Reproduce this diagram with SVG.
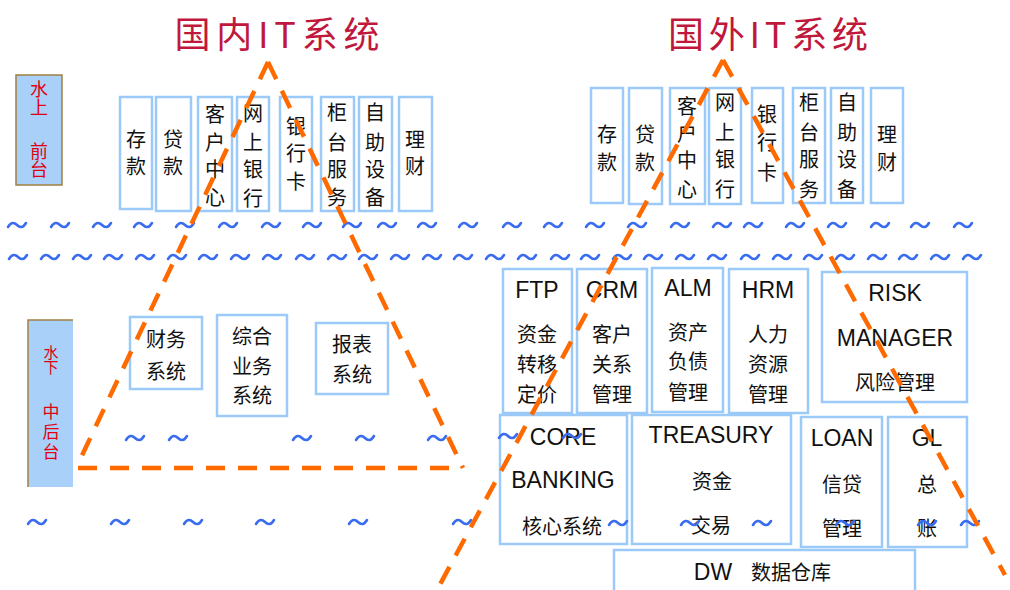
<svg xmlns="http://www.w3.org/2000/svg" xmlns:xlink="http://www.w3.org/1999/xlink" width="1010" height="590" viewBox="0 0 1010 590">
<style>
.bx{fill:#fff;stroke:#9ccaf8;stroke-width:2.5}
.side{fill:#a8d0f8;stroke:#a08040;stroke-width:1.5}
.cj{font-family:"Noto Sans CJK SC",sans-serif;font-size:20px;fill:#111;text-anchor:middle}
.en{font-family:"Liberation Sans",Arial,sans-serif;font-size:23px;fill:#111;text-anchor:middle}
.red{font-family:"Noto Sans CJK SC",sans-serif;fill:#e00010;writing-mode:vertical-rl}
.ttl{font-family:"Noto Sans CJK SC",sans-serif;font-size:36px;fill:#c0183c;text-anchor:middle}
.dash{fill:none;stroke:#ff6a00;stroke-width:4.5;stroke-dasharray:19 13}
</style>
<defs>
<path id="w" d="M-9,2 C-6,-3 -3,-3 0,0 S6,3 9,-2" fill="none" stroke="#3a6cf0" stroke-width="2.6" stroke-linecap="round"/>
</defs>
<rect width="1010" height="590" fill="#fff"/>

<text class="ttl" x="277" y="48" textLength="205">国内IT系统</text>
<text class="ttl" x="768" y="48" textLength="200">国外IT系统</text>

<g id="side-top"><rect class="side" x="16" y="75" width="46" height="110"/>
<text class="red" x="39" y="80" font-size="18">水上</text>
<text class="red" x="39" y="142" font-size="18">前台</text></g>
<g id="side-bottom"><rect x="28" y="320" width="45" height="167" fill="#a8d0f8"/>
<path d="M28,487 V320 H73" fill="none" stroke="#a08040" stroke-width="1.5"/>
<text class="red" x="51" y="345" font-size="15">水下</text>
<text class="red" x="51" y="403" font-size="17" letter-spacing="3">中后台</text></g>

<!-- domestic front -->
<g id="d-cunkuan"><rect class="bx" x="120" y="97" width="32" height="112"/><text class="cj"><tspan x="136" y="147">存</tspan><tspan x="136" y="174">款</tspan></text></g>
<g id="d-daikuan"><rect class="bx" x="156" y="97" width="35" height="114"/><text class="cj"><tspan x="173" y="147">贷</tspan><tspan x="173" y="174">款</tspan></text></g>
<g id="d-kehu"><rect class="bx" x="198" y="97" width="34" height="114"/><text class="cj"><tspan x="215" y="122">客</tspan><tspan x="215" y="150">户</tspan><tspan x="215" y="177">中</tspan><tspan x="215" y="205">心</tspan></text></g>
<g id="d-wangyin"><rect class="bx" x="237" y="97" width="32" height="114"/><text class="cj"><tspan x="253" y="121">网</tspan><tspan x="253" y="150">上</tspan><tspan x="253" y="177">银</tspan><tspan x="253" y="206">行</tspan></text></g>
<g id="d-yinhangka"><rect class="bx" x="280" y="97" width="32" height="114"/><text class="cj"><tspan x="296" y="134">银</tspan><tspan x="296" y="161">行</tspan><tspan x="296" y="189">卡</tspan></text></g>
<g id="d-guitai"><rect class="bx" x="321" y="97" width="33" height="114"/><text class="cj"><tspan x="337" y="120">柜</tspan><tspan x="337" y="150">台</tspan><tspan x="337" y="177">服</tspan><tspan x="337" y="205">务</tspan></text></g>
<g id="d-zizhu"><rect class="bx" x="359" y="97" width="33" height="114"/><text class="cj"><tspan x="375" y="120">自</tspan><tspan x="375" y="150">助</tspan><tspan x="375" y="177">设</tspan><tspan x="375" y="205">备</tspan></text></g>
<g id="d-licai"><rect class="bx" x="399" y="97" width="33" height="114"/><text class="cj"><tspan x="415" y="147">理</tspan><tspan x="415" y="174">财</tspan></text></g>

<!-- foreign front -->
<g id="f-cunkuan"><rect class="bx" x="591" y="88" width="32" height="115"/><text class="cj"><tspan x="607" y="142">存</tspan><tspan x="607" y="170">款</tspan></text></g>
<g id="f-daikuan"><rect class="bx" x="629" y="88" width="33" height="116"/><text class="cj"><tspan x="645" y="142">贷</tspan><tspan x="645" y="170">款</tspan></text></g>
<g id="f-kehu"><rect class="bx" x="670" y="88" width="35" height="116"/><text class="cj"><tspan x="687" y="114">客</tspan><tspan x="687" y="141">户</tspan><tspan x="687" y="168">中</tspan><tspan x="687" y="197">心</tspan></text></g>
<g id="f-wangyin"><rect class="bx" x="709" y="88" width="32" height="116"/><text class="cj"><tspan x="725" y="110">网</tspan><tspan x="725" y="140">上</tspan><tspan x="725" y="167">银</tspan><tspan x="725" y="197">行</tspan></text></g>
<g id="f-yinhangka"><rect class="bx" x="752" y="88" width="31" height="115"/><text class="cj"><tspan x="767" y="122">银</tspan><tspan x="767" y="150">行</tspan><tspan x="767" y="180">卡</tspan></text></g>
<g id="f-guitai"><rect class="bx" x="793" y="88" width="32" height="115"/><text class="cj"><tspan x="809" y="110">柜</tspan><tspan x="809" y="140">台</tspan><tspan x="809" y="167">服</tspan><tspan x="809" y="197">务</tspan></text></g>
<g id="f-zizhu"><rect class="bx" x="831" y="88" width="32" height="115"/><text class="cj"><tspan x="847" y="110">自</tspan><tspan x="847" y="140">助</tspan><tspan x="847" y="167">设</tspan><tspan x="847" y="197">备</tspan></text></g>
<g id="f-licai"><rect class="bx" x="871" y="88" width="32" height="115"/><text class="cj"><tspan x="887" y="142">理</tspan><tspan x="887" y="170">财</tspan></text></g>

<!-- domestic back -->
<g id="d-caiwu"><rect class="bx" x="130" y="317" width="72" height="72"/><text class="cj"><tspan x="166" y="347">财务</tspan><tspan x="166" y="379">系统</tspan></text></g>
<g id="d-zonghe"><rect class="bx" x="217" y="315" width="70" height="101"/><text class="cj"><tspan x="252" y="344">综合</tspan><tspan x="252" y="374">业务</tspan><tspan x="252" y="403">系统</tspan></text></g>
<g id="d-baobiao"><rect class="bx" x="316" y="323" width="72" height="71"/><text class="cj"><tspan x="352" y="352">报表</tspan><tspan x="352" y="382">系统</tspan></text></g>

<!-- foreign back -->
<g id="f-ftp"><rect class="bx" x="503" y="269" width="69" height="144"/><text class="en" x="537" y="298">FTP</text><text class="cj"><tspan x="537" y="342">资金</tspan><tspan x="537" y="372">转移</tspan><tspan x="537" y="402">定价</tspan></text></g>
<g id="f-crm"><rect class="bx" x="577" y="269" width="70" height="144"/><text class="en" x="612" y="298">CRM</text><text class="cj"><tspan x="612" y="342">客户</tspan><tspan x="612" y="372">关系</tspan><tspan x="612" y="402">管理</tspan></text></g>
<g id="f-alm"><rect class="bx" x="652" y="268" width="71" height="144"/><text class="en" x="688" y="296">ALM</text><text class="cj"><tspan x="688" y="340">资产</tspan><tspan x="688" y="369">负债</tspan><tspan x="688" y="400">管理</tspan></text></g>
<g id="f-hrm"><rect class="bx" x="729" y="269" width="79" height="144"/><text class="en" x="768" y="298">HRM</text><text class="cj"><tspan x="768" y="342">人力</tspan><tspan x="768" y="372">资源</tspan><tspan x="768" y="402">管理</tspan></text></g>
<g id="f-risk"><rect class="bx" x="822" y="272" width="145" height="130"/><text class="en" x="895" y="301">RISK</text><text class="en" x="895" y="346">MANAGER</text><text class="cj" x="895" y="390">风险管理</text></g>
<g id="f-core"><rect class="bx" x="500" y="415" width="127" height="129"/><text class="en" x="563" y="445">CORE</text><text class="en" x="563" y="488">BANKING</text><text class="cj" x="562" y="534">核心系统</text></g>
<g id="f-treasury"><rect class="bx" x="632" y="415" width="159" height="129"/><text class="en" x="711" y="443">TREASURY</text><text class="cj"><tspan x="712" y="489">资金</tspan><tspan x="711" y="533">交易</tspan></text></g>
<g id="f-loan"><rect class="bx" x="801" y="417" width="81" height="130"/><text class="en" x="842" y="446">LOAN</text><text class="cj"><tspan x="842" y="492">信贷</tspan><tspan x="842" y="536">管理</tspan></text></g>
<g id="f-gl"><rect class="bx" x="888" y="417" width="79" height="130"/><text class="en" x="927" y="446">GL</text><text class="cj"><tspan x="927" y="492">总</tspan><tspan x="927" y="536">账</tspan></text></g>
<g id="f-dw"><rect class="bx" x="614" y="550" width="301" height="45"/><text class="en" x="713" y="580" font-size="24">DW</text><text class="cj" x="791" y="580" font-size="21">数据仓库</text></g>

<!-- waves -->
<g id="waves">
<use href="#w" x="17" y="225"/><use href="#w" x="60" y="225"/><use href="#w" x="102" y="225"/><use href="#w" x="143" y="225"/><use href="#w" x="185" y="225"/><use href="#w" x="228" y="225"/><use href="#w" x="271" y="225"/><use href="#w" x="312" y="225"/><use href="#w" x="352" y="225"/><use href="#w" x="387" y="225"/><use href="#w" x="427" y="225"/><use href="#w" x="468" y="225"/><use href="#w" x="512" y="225"/><use href="#w" x="553" y="225"/><use href="#w" x="595" y="225"/><use href="#w" x="637" y="225"/><use href="#w" x="680" y="225"/><use href="#w" x="722" y="225"/><use href="#w" x="753" y="225"/><use href="#w" x="795" y="225"/><use href="#w" x="837" y="225"/><use href="#w" x="880" y="225"/><use href="#w" x="920" y="225"/><use href="#w" x="963" y="225"/>
<use href="#w" x="18" y="257"/><use href="#w" x="50" y="257"/><use href="#w" x="82" y="257"/><use href="#w" x="113" y="257"/><use href="#w" x="145" y="257"/><use href="#w" x="177" y="257"/><use href="#w" x="208" y="257"/><use href="#w" x="240" y="257"/><use href="#w" x="272" y="257"/><use href="#w" x="305" y="257"/><use href="#w" x="337" y="257"/><use href="#w" x="368" y="257"/><use href="#w" x="400" y="257"/><use href="#w" x="432" y="257"/><use href="#w" x="463" y="257"/><use href="#w" x="495" y="257"/><use href="#w" x="527" y="257"/><use href="#w" x="560" y="257"/><use href="#w" x="590" y="257"/><use href="#w" x="622" y="257"/><use href="#w" x="653" y="257"/><use href="#w" x="685" y="257"/><use href="#w" x="717" y="257"/><use href="#w" x="750" y="257"/><use href="#w" x="782" y="257"/><use href="#w" x="813" y="257"/><use href="#w" x="845" y="257"/><use href="#w" x="877" y="257"/><use href="#w" x="908" y="257"/><use href="#w" x="940" y="257"/><use href="#w" x="972" y="257"/>
<use href="#w" x="135" y="438"/><use href="#w" x="178" y="438"/><use href="#w" x="302" y="438"/><use href="#w" x="365" y="438"/><use href="#w" x="437" y="438"/><use href="#w" x="508" y="436"/><use href="#w" x="572" y="436"/>
<use href="#w" x="37" y="522"/><use href="#w" x="120" y="522"/><use href="#w" x="193" y="522"/><use href="#w" x="265" y="522"/><use href="#w" x="358" y="522"/><use href="#w" x="462" y="522"/><use href="#w" x="618" y="523"/><use href="#w" x="690" y="523"/><use href="#w" x="762" y="523"/><use href="#w" x="845" y="523"/><use href="#w" x="927" y="523"/><use href="#w" x="970" y="523"/>
</g>

<g id="connectors">
<path class="dash" d="M268,62 L77,466"/>
<path class="dash" d="M268,62 L463,468"/>
<path class="dash" d="M78,468 H456"/>
<path class="dash" d="M723,60 L437,590"/>
<path class="dash" d="M723,60 L1005,575"/>
</g>
</svg>
